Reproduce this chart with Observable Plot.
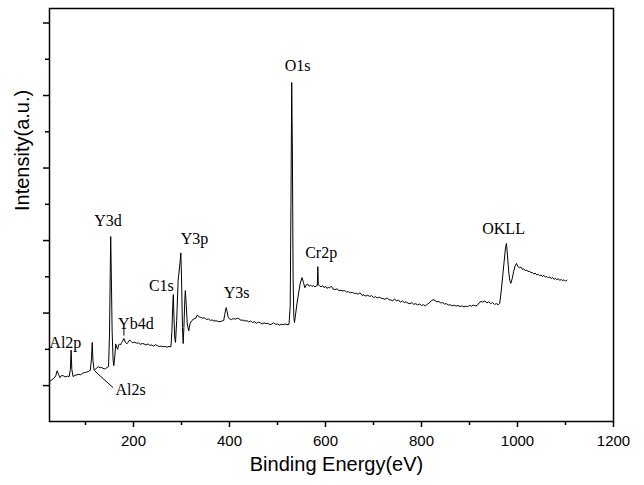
<!DOCTYPE html>
<html>
<head>
<meta charset="utf-8">
<script src="https://cdn.jsdelivr.net/npm/d3@7"></script>
<script src="https://cdn.jsdelivr.net/npm/@observablehq/plot@0.6"></script>
<style>
  html, body { margin: 0; padding: 0; background: #fff; }
  #chart svg { display: block; }
</style>
</head>
<body>
<div id="chart"></div>
<script>
// Binding energy (eV) and intensity (a.u.)
const energy = [
  26, 30, 34, 38, 41, 44, 47, 50, 54, 58, 62, 66, 68.5, 70, 71.5, 74, 78, 82, 86, 90,
  94, 98, 102, 106, 110, 112.5, 114, 115.5, 118, 121, 124, 127, 130, 133, 136, 139, 142, 145, 148, 150,
  151.5, 152.5, 153.5, 155.5, 157.5, 159, 161, 163, 165, 167, 169, 171, 173, 175, 177, 180, 183, 186, 189, 192,
  195, 198, 202, 206, 210, 214, 218, 222, 226, 230, 234, 238, 242, 246, 250, 254, 258, 262, 266, 270,
  274, 278, 280, 282, 283, 284, 286, 287.5, 290, 293, 297, 298.6, 300, 302, 303.5, 305, 307, 308, 310, 312,
  315, 318, 322, 326, 330, 333, 336, 340, 344, 348, 352, 356, 360, 364, 368, 372, 376, 380, 384, 388,
  390, 392, 393, 395, 397, 400, 404, 408, 412, 416, 420, 424, 428, 432, 436, 440, 444, 448, 452, 456,
  460, 464, 468, 472, 476, 480, 484, 488, 492, 496, 500, 504, 508, 512, 516, 520, 524, 526.5, 528, 529.6,
  531, 532.5, 534, 535.4, 538, 541, 544, 547, 551, 554, 557, 560, 563, 566, 569, 572, 575, 578, 581, 583,
  584, 585, 588, 591, 594, 597, 600, 603, 606, 609, 612, 616, 620, 624, 628, 632, 636, 640, 644, 648,
  652, 656, 660, 664, 668, 672, 676, 680, 684, 688, 692, 696, 700, 704, 708, 712, 716, 720, 724, 728,
  732, 736, 740, 744, 748, 752, 756, 760, 764, 768, 772, 776, 780, 784, 788, 792, 796, 800, 804, 808,
  812, 816, 820, 824, 828, 832, 836, 840, 844, 848, 852, 856, 860, 864, 868, 872, 876, 880, 884, 888,
  892, 896, 900, 904, 908, 912, 916, 920, 924, 928, 932, 936, 940, 944, 948, 952, 956, 960, 963, 966,
  969, 972, 975, 977, 979, 982, 984, 986, 989, 992, 995, 998, 1001, 1004, 1007, 1010, 1013, 1016, 1019, 1022,
  1025, 1028, 1031, 1034, 1037, 1040, 1043, 1046, 1049, 1052, 1055, 1058, 1061, 1064, 1067, 1070, 1073, 1076, 1079, 1082,
  1085, 1088, 1091, 1094, 1097, 1100, 1103
];
const intensity = [
  0.12, 0.16, 0.20, 0.27, 0.41, 0.30, 0.22, 0.28, 0.27, 0.24, 0.26, 0.25, 0.45, 0.98, 0.45, 0.25, 0.28, 0.30, 0.31, 0.30,
  0.34, 0.36, 0.37, 0.39, 0.42, 0.75, 1.19, 0.70, 0.42, 0.45, 0.50, 0.52, 0.49, 0.50, 0.48, 0.46, 0.47, 0.50, 0.52, 1.40,
  3.10, 4.11, 3.30, 1.50, 0.70, 0.55, 0.80, 1.15, 1.05, 1.00, 1.12, 1.15, 1.12, 1.18, 1.22, 1.30, 1.20, 1.15, 1.20, 1.26,
  1.22, 1.18, 1.20, 1.17, 1.18, 1.14, 1.16, 1.15, 1.12, 1.15, 1.11, 1.12, 1.09, 1.13, 1.10, 1.08, 1.09, 1.07, 1.08, 1.06,
  1.08, 1.07, 1.50, 2.30, 2.51, 2.00, 1.30, 1.19, 1.80, 2.90, 3.40, 3.66, 3.00, 1.60, 1.16, 1.60, 2.40, 2.62, 2.20, 1.70,
  1.51, 1.72, 1.80, 1.84, 1.86, 1.95, 1.90, 1.88, 1.86, 1.87, 1.82, 1.84, 1.80, 1.81, 1.78, 1.79, 1.77, 1.76, 1.78, 1.80,
  1.95, 2.10, 2.15, 2.05, 1.90, 1.84, 1.82, 1.85, 1.83, 1.86, 1.84, 1.80, 1.81, 1.78, 1.79, 1.76, 1.78, 1.74, 1.76, 1.72,
  1.75, 1.73, 1.70, 1.73, 1.71, 1.72, 1.68, 1.70, 1.73, 1.69, 1.70, 1.67, 1.69, 1.68, 1.70, 1.68, 1.69, 2.20, 5.00, 8.36,
  6.50, 3.00, 1.90, 1.74, 2.00, 2.30, 2.55, 2.80, 2.98, 2.85, 2.70, 2.78, 2.80, 2.74, 2.77, 2.73, 2.76, 2.72, 2.75, 2.76,
  3.28, 2.78, 2.75, 2.72, 2.76, 2.70, 2.74, 2.68, 2.71, 2.70, 2.74, 2.66, 2.65, 2.67, 2.62, 2.63, 2.61, 2.62, 2.58, 2.59,
  2.56, 2.57, 2.54, 2.55, 2.52, 2.56, 2.49, 2.50, 2.47, 2.49, 2.46, 2.48, 2.43, 2.45, 2.42, 2.44, 2.41, 2.40, 2.38, 2.42,
  2.37, 2.36, 2.34, 2.39, 2.33, 2.36, 2.30, 2.34, 2.29, 2.31, 2.27, 2.26, 2.29, 2.24, 2.26, 2.22, 2.25, 2.21, 2.23, 2.20,
  2.24, 2.28, 2.33, 2.37, 2.35, 2.31, 2.32, 2.28, 2.29, 2.25, 2.26, 2.22, 2.23, 2.20, 2.22, 2.19, 2.21, 2.18, 2.20, 2.17,
  2.19, 2.18, 2.21, 2.19, 2.22, 2.20, 2.21, 2.28, 2.32, 2.30, 2.34, 2.28, 2.31, 2.26, 2.29, 2.24, 2.26, 2.23, 2.27, 2.60,
  3.00, 3.40, 3.80, 3.92, 3.60, 3.10, 2.90, 2.82, 2.95, 3.15, 3.30, 3.37, 3.28, 3.25, 3.27, 3.21, 3.22, 3.17, 3.19, 3.14,
  3.16, 3.11, 3.12, 3.08, 3.10, 3.05, 3.07, 3.03, 3.05, 3.01, 3.04, 2.99, 3.01, 2.97, 3.00, 2.95, 2.98, 2.93, 2.96, 2.92,
  2.95, 2.90, 2.93, 2.89, 2.92, 2.88, 2.91
];

// Peak annotations
const peakNames = ["Al2p", "Al2s", "Y3d", "Yb4d", "C1s", "Y3p", "Y3s", "O1s", "Cr2p", "OKLL"];
const peakLabelE = [58, 194, 147, 205, 258, 327, 415, 542, 591, 971];
const peakLabelV = [1.19, -0.11, 4.55, 1.70, 2.75, 4.05, 2.57, 8.82, 3.65, 4.32];

// Leader lines (Al2s pointer, Yb4d pointer)
const leaderE1 = [118.75, 180];
const leaderV1 = [0.41, 1.38];
const leaderE2 = [157.7, 180];
const leaderV2 = [-0.06, 1.56];

// Axis ticks
const xMajorTicks = [200, 400, 600, 800, 1000, 1200];
const xMinorTicks = [100, 300, 500, 700, 900, 1100];
const yMajorTicks = [0, 2, 4, 6, 8, 10];
const yMinorTicks = [1, 3, 5, 7, 9];

const xTitle = "Binding Energy(eV)";
const yTitle = "Intensity(a.u.)";

const spectrum = energy.map((e, i) => ({e, v: intensity[i]}));
const peaks = peakNames.map((n, i) => ({n, e: peakLabelE[i], v: peakLabelV[i]}));
const leaders = leaderE1.map((e, i) => ({e1: e, v1: leaderV1[i], e2: leaderE2[i], v2: leaderV2[i]}));

const sans = "'Liberation Sans', Arial, sans-serif";
const serif = "'Liberation Serif', 'Times New Roman', serif";

const chart = Plot.plot({
  width: 644,
  height: 485,
  marginLeft: 49,
  marginRight: 31,
  marginTop: 8,
  marginBottom: 64,
  style: {fontFamily: sans, color: "black", background: "white", overflow: "visible"},
  x: {domain: [25, 1200]},
  y: {domain: [-0.99, 10.4]},
  marks: [
    Plot.axisX({ticks: xMajorTicks, tickSize: 6, tickPadding: 8, tickFormat: d => String(d), fontSize: 15, label: null, strokeWidth: 1.5}),
    Plot.axisX({ticks: xMinorTicks, tickSize: 4, tickFormat: () => "", label: null, strokeWidth: 1.5}),
    Plot.axisY({ticks: yMajorTicks, tickSize: 6, tickFormat: () => "", label: null, strokeWidth: 1.5}),
    Plot.axisY({ticks: yMinorTicks, tickSize: 4, tickFormat: () => "", label: null, strokeWidth: 1.5}),
    Plot.line(spectrum, {x: "e", y: "v", stroke: "black", strokeWidth: 1}),
    Plot.link(leaders, {x1: "e1", y1: "v1", x2: "e2", y2: "v2", stroke: "black", strokeWidth: 1}),
    Plot.text(peaks, {x: "e", y: "v", text: "n", fontFamily: serif, fontSize: 16, fill: "black"}),
    Plot.text([xTitle], {frameAnchor: "bottom", dx: 5, dy: 49, text: d => d, fontSize: 20, fontFamily: sans, fill: "black"}),
    Plot.text([yTitle], {frameAnchor: "left", dx: -27, dy: -4, rotate: -90, text: d => d, fontSize: 20, fontFamily: sans, fill: "black"}),
    Plot.frame({stroke: "black", strokeWidth: 1.5})
  ]
});
document.getElementById("chart").appendChild(chart);
</script>
</body>
</html>
